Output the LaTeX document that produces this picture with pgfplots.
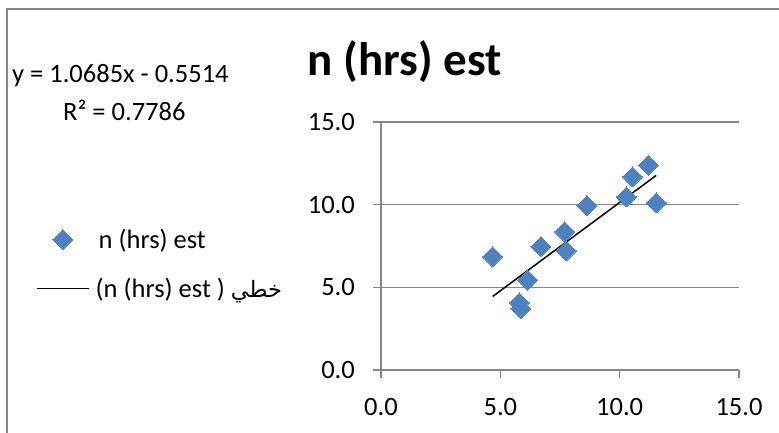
\documentclass[border=0pt]{standalone}
\usepackage{fontspec}
\usepackage{pgfplots}
\pgfplotsset{compat=1.18}
\setmainfont{Carlito}
\newfontfamily\arabicfont[Script=Arabic,Scale=0.85]{DejaVu Sans}
\TeXXeTstate=1
\definecolor{seriesblue}{RGB}{79,129,189}
\definecolor{gridgray}{RGB}{134,134,134}

% estimated vs. observed hours
\pgfplotstableread{
x      y
4.68   6.85
5.80   4.07
5.86   3.72
6.15   5.44
6.70   7.45
7.69   8.36
7.76   7.21
8.63   9.93
10.28  10.47
10.54  11.68
11.21  12.38
11.53  10.11
}\hrsdata

\newcommand{\lblfont}{\fontsize{26.5bp}{31bp}\selectfont}

\begin{document}
\begin{tikzpicture}[x=1bp,y=1bp]
\useasboundingbox (0,0) rectangle (779,432);
% chart area border
\draw[gridgray, line width=1.5bp] (7,-2) -- (7,423) -- (781,423);
% title
\node[font=\fontsize{47bp}{56bp}\selectfont\bfseries] at (405,370) {n (hrs) est};
% trendline equation
\node[font=\lblfont, anchor=west, inner sep=0pt] at (12,356) {y = 1.0685x - 0.5514};
\node[font=\lblfont, anchor=west, inner sep=0pt] at (63,322) {R² = 0.7786};
\begin{axis}[
  at={(381bp,62bp)}, anchor=south west,
  scale only axis, width=358bp, height=248bp,
  xmin=0, xmax=15, ymin=0, ymax=15,
  xtick={0,5,10,15}, ytick={0,5,10,15},
  axis x line*=bottom, axis y line*=left,
  axis line style={gridgray, line width=1.5bp, -},
  tick style={gridgray, line width=1.5bp},
  tick align=outside, major tick length=8bp,
  ymajorgrids, grid style={gridgray, line width=1.5bp},
  /pgf/number format/.cd, fixed, fixed zerofill, precision=1, assume math mode=true,
  /pgfplots/.cd,
  ticklabel style={font=\lblfont, inner sep=0pt},
  xticklabel style={yshift=-20bp},
  yticklabel style={xshift=-18bp},
  legend style={draw=none, fill=none, font=\lblfont,
    at={(axis description cs:-0.9637,0.569)}, anchor=north west,
    inner sep=0pt, row sep=28bp, column sep=6bp,
    nodes={inner sep=0pt}},
  legend cell align=left,
  legend image code/.code={
    \draw[mark repeat=2, mark phase=2, #1] plot coordinates {(0bp,0bp) (26bp,0bp) (52bp,0bp)};
  },
  clip=false,
]
\addplot[only marks, mark=square*, mark size=7.07bp,
  mark options={rotate=45, fill=seriesblue, draw=seriesblue, line width=0pt}]
  table[x=x, y=y] {\hrsdata};
\addlegendentry{\hspace{3bp}n (hrs) est}
\addplot[black, line width=1.5bp, mark=none]
  coordinates {(4.68,4.4492) (11.53,11.7684)};
\addlegendentry{(n (hrs) est ) {\arabicfont\beginR خطي\endR}}
\end{axis}
\end{tikzpicture}
\end{document}
